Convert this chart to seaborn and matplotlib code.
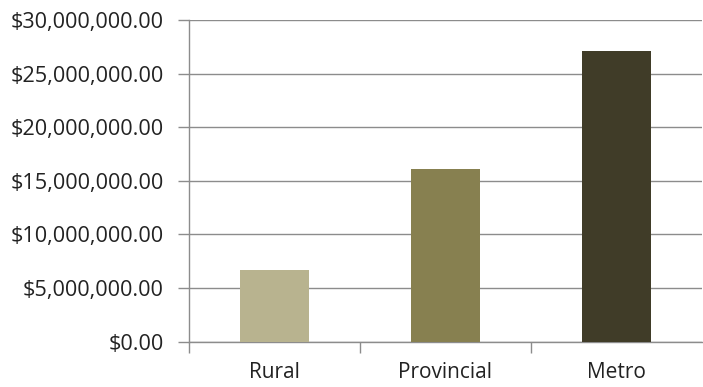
import matplotlib
matplotlib.use("Agg")
import matplotlib.pyplot as plt
from matplotlib.ticker import FuncFormatter, FixedLocator
import seaborn as sns
import pandas as pd

regions = ["Rural", "Provincial", "Metro"]
totals = [6_670_000, 16_060_000, 27_120_000]
bar_colors = ["#B8B38F", "#878050", "#403C28"]
y_ticks = [0, 5_000_000, 10_000_000, 15_000_000, 20_000_000, 25_000_000, 30_000_000]

sns.set_theme(style="white")
plt.rcParams["font.family"] = ["Open Sans", "DejaVu Sans"]

df = pd.DataFrame({"region": regions, "total": totals})

fig = plt.figure(figsize=(7.03, 3.87), dpi=100)
ax = fig.add_axes([189 / 703, 45.5 / 387, 513 / 703, 321.5 / 387])

sns.barplot(data=df, x="region", y="total", hue="region", palette=bar_colors,
            width=0.4, legend=False, ax=ax, zorder=3, saturation=1,
            linewidth=0, edgecolor="none")

grid_color = "#8C8C8C"
ax.set_ylim(0, 30_000_000)
ax.set_xlim(-0.5, 2.5)
ax.yaxis.set_major_locator(FixedLocator(y_ticks))
ax.yaxis.set_major_formatter(FuncFormatter(lambda v, _: f"${v:,.2f}"))
ax.grid(axis="y", color=grid_color, linewidth=1.0, zorder=0)
ax.set_axisbelow(True)

for side in ("top", "right"):
    ax.spines[side].set_visible(False)
for side in ("left", "bottom"):
    ax.spines[side].set_visible(True)
    ax.spines[side].set_color(grid_color)
    ax.spines[side].set_linewidth(1.0)

ax.tick_params(axis="y", which="major", left=True, length=8, width=1.0,
               color=grid_color, labelsize=15.6, labelcolor="#222222", pad=10)
ax.tick_params(axis="x", which="major", bottom=False, length=0,
               labelsize=15, labelcolor="#222222", pad=15)
ax.xaxis.set_minor_locator(FixedLocator([-0.5, 0.5, 1.5]))
ax.tick_params(axis="x", which="minor", bottom=True, length=8, width=1.0,
               color=grid_color)

ax.set_xlabel("")
ax.set_ylabel("")

fig.savefig("out.png", dpi=100)
